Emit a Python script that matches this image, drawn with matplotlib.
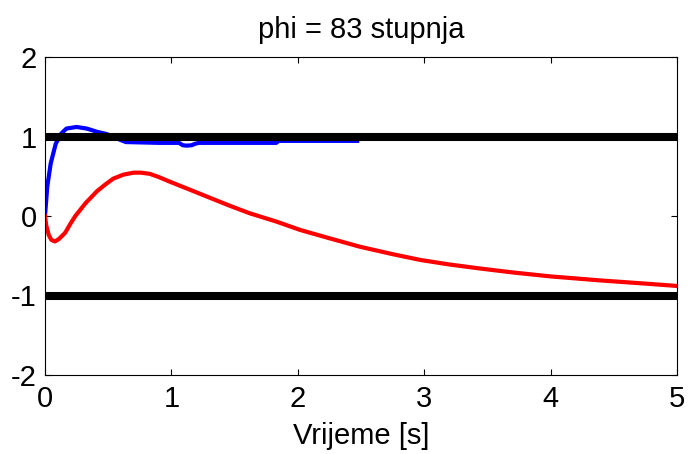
import matplotlib
matplotlib.use("Agg")
import matplotlib.pyplot as plt

plt.rcParams['font.family'] = ['Liberation Sans', 'DejaVu Sans']
plt.rcParams['axes.unicode_minus'] = False

# Blue response
t_blue = [0, 0.018, 0.045, 0.085, 0.13, 0.17, 0.25, 0.33, 0.41, 0.49, 0.56, 0.64,
          0.9, 1.06, 1.09, 1.12, 1.16, 1.19, 1.22, 1.5, 1.83, 1.85, 2.2, 2.47]
y_blue = [0, 0.37, 0.66, 0.91, 1.04, 1.10, 1.12, 1.10, 1.06, 1.03, 0.98, 0.93,
          0.92, 0.92, 0.89, 0.885, 0.89, 0.91, 0.92, 0.92, 0.92, 0.945, 0.945, 0.945]

# Red response
t_red = [0, 0.01, 0.03, 0.05, 0.078, 0.11, 0.16, 0.2, 0.24, 0.28, 0.32, 0.41,
         0.48, 0.54, 0.62, 0.70, 0.76, 0.83, 0.9, 0.99, 1.1, 1.21, 1.35, 1.46,
         1.62, 1.83, 2.02, 2.25, 2.49, 2.75, 2.97, 3.2, 3.44, 3.7, 4.0, 4.39,
         4.79, 5.0]
y_red = [0, -0.12, -0.24, -0.3, -0.32, -0.29, -0.21, -0.1, 0.0, 0.08, 0.16, 0.31,
         0.40, 0.47, 0.52, 0.545, 0.545, 0.53, 0.49, 0.43, 0.36, 0.29, 0.2, 0.13,
         0.034, -0.07, -0.176, -0.28, -0.386, -0.48, -0.553, -0.61, -0.66, -0.71,
         -0.76, -0.81, -0.855, -0.88]

# Limit lines
limit_levels = [1, -1]

x_ticks = [0, 1, 2, 3, 4, 5]
y_ticks = [-2, -1, 0, 1, 2]

fig = plt.figure(figsize=(6.88, 4.54), dpi=100)
ax = fig.add_axes([45/688, 79/454, 632/688, 318/454])

ax.plot(t_blue, y_blue, color='#0000ff', lw=3.0, zorder=2)
ax.plot(t_red, y_red, color='#ff0000', lw=3.0, zorder=2)
for lv in limit_levels:
    ax.plot([0, 5], [lv, lv], color='black', lw=5.8, zorder=3, solid_capstyle='butt')

ax.set_xlim(0, 5)
ax.set_ylim(-2, 2)
ax.set_xticks(x_ticks)
ax.set_yticks(y_ticks)
ax.tick_params(direction='in', top=True, right=True, length=4, width=0.8,
               labelsize=21)
ax.tick_params(axis='x', pad=7)
ax.tick_params(axis='y', pad=6)
for s in ax.spines.values():
    s.set_linewidth(0.8)

ax.set_title('phi = 83 stupnja', fontsize=21, pad=14)
ax.set_xlabel('Vrijeme [s]', fontsize=21, labelpad=7)

fig.savefig('out.png', dpi=100)
